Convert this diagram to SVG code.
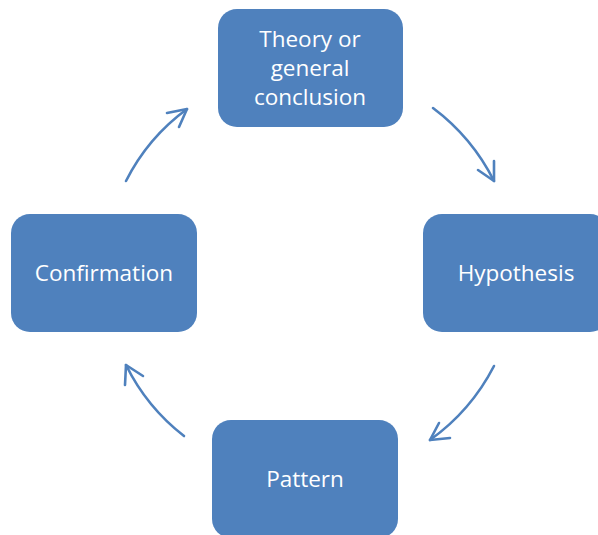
<svg xmlns="http://www.w3.org/2000/svg" width="598" height="535" viewBox="0 0 598 535">
  <style>
    .box { fill: #4f81bd; }
    .label { fill: #ffffff; font-family: "Open Sans", "Liberation Sans", sans-serif; font-size: 22.5px; text-anchor: middle; }
    .arc { fill: none; stroke: #4f81bd; stroke-width: 2.6; stroke-linecap: round; stroke-linejoin: round; }
  </style>
  <rect width="598" height="535" fill="#ffffff"/>

  <g id="theory">
    <rect class="box" x="218" y="9" width="185" height="118" rx="19"/>
    <text class="label" x="310" y="47">Theory or</text>
    <text class="label" x="310" y="76">general</text>
    <text class="label" x="310" y="105">conclusion</text>
  </g>

  <g id="hypothesis">
    <rect class="box" x="423" y="214" width="186" height="118" rx="19"/>
    <text class="label" x="516" y="281">Hypothesis</text>
  </g>

  <g id="pattern">
    <rect class="box" x="212" y="420" width="186" height="118" rx="19"/>
    <text class="label" x="305" y="487">Pattern</text>
  </g>

  <g id="confirmation">
    <rect class="box" x="11" y="214" width="186" height="118" rx="19"/>
    <text class="label" x="104" y="281">Confirmation</text>
  </g>

  <g id="connectors">
    <!-- theory -> hypothesis -->
    <path class="arc" d="M433 108 A208 208 0 0 1 494 181"/>
    <path class="arc" d="M478 170 L494 181 L494 161"/>
    <!-- hypothesis -> pattern -->
    <path class="arc" d="M494 366 A208 208 0 0 1 430 440"/>
    <path class="arc" d="M450 438 L430 440 L439 423"/>
    <!-- pattern -> confirmation -->
    <path class="arc" d="M184 436 A204 204 0 0 1 126 365"/>
    <path class="arc" d="M143 376 L126 365 L125 385"/>
    <!-- confirmation -> theory -->
    <path class="arc" d="M126 181 A202 202 0 0 1 187 109"/>
    <path class="arc" d="M167 113 L187 109 L179 127"/>
  </g>
</svg>
